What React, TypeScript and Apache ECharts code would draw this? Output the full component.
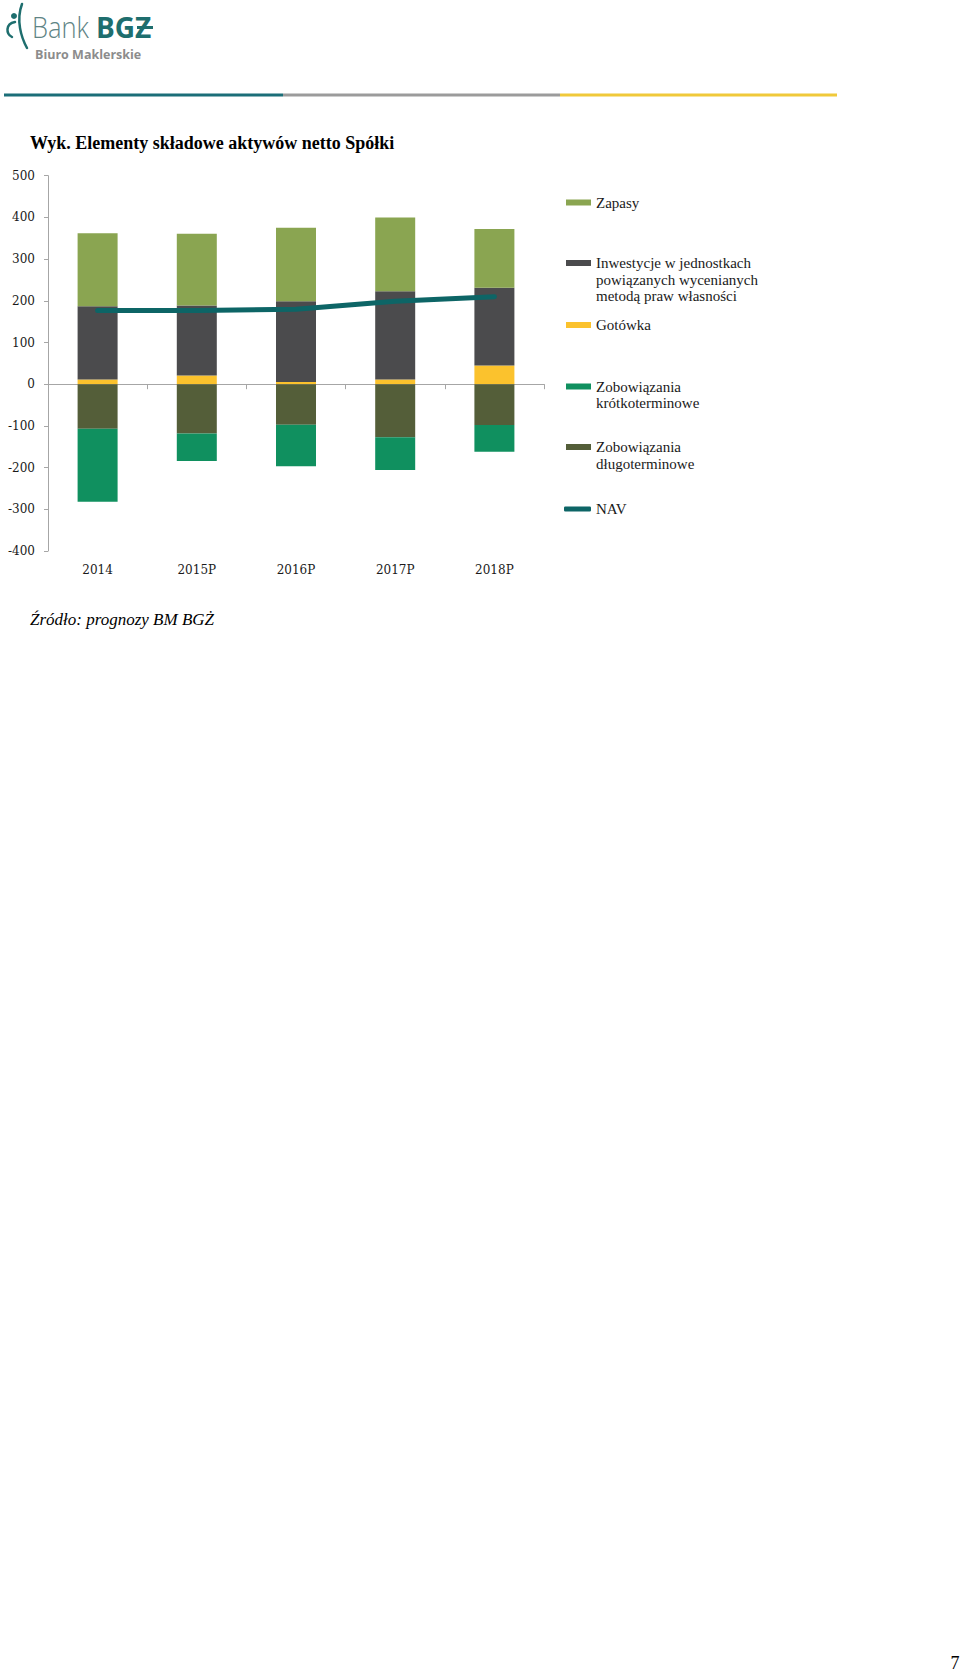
import React, { useEffect, useRef } from 'react';
import * as echarts from 'echarts';

const categories = ['2014', '2015P', '2016P', '2017P', '2018P'];
const zapasy = [175, 172, 176, 177, 141];
const inwestycje = [176, 168, 194, 212, 186];
const gotowka = [11, 21, 5, 11, 45];
const zobDlugo = [-107, -118, -97, -127, -98];
const zobKrotko = [-175, -66, -100, -79, -64];
const nav = [177, 177, 180, 199, 210];

const yMin = -400;
const yMax = 500;
const yStep = 100;

const N_ZAP = 'Zapasy';
const N_INW = 'Inwestycje w jednostkach powiązanych wycenianych metodą praw własności';
const N_GOT = 'Gotówka';
const N_KR = 'Zobowiązania krótkoterminowe';
const N_DL = 'Zobowiązania długoterminowe';
const N_NAV = 'NAV';

const legendLines: Record<string, string[]> = {
  [N_ZAP]: ['Zapasy'],
  [N_INW]: ['Inwestycje w jednostkach', 'powiązanych wycenianych', 'metodą praw własności'],
  [N_GOT]: ['Gotówka'],
  [N_KR]: ['Zobowiązania', 'krótkoterminowe'],
  [N_DL]: ['Zobowiązania', 'długoterminowe'],
  [N_NAV]: ['NAV'],
};

const C_ZAP = '#8aa551';
const C_INW = '#4b4b4d';
const C_GOT = '#fbc22d';
const C_KR = '#10905f';
const C_DL = '#545e39';
const C_NAV = '#0d6566';
const AXIS = '#a6a6a6';

const LH = 16.7;
const legendPos = [
  { name: N_ZAP, cy: 202.5, icon: 'rect' },
  { name: N_INW, cy: 263, icon: 'rect' },
  { name: N_GOT, cy: 325, icon: 'rect' },
  { name: N_KR, cy: 386.5, icon: 'rect' },
  { name: N_DL, cy: 447, icon: 'rect' },
  { name: N_NAV, cy: 509, icon: 'roundRect' },
];

export default function App() {
  const ref = useRef<HTMLDivElement>(null);
  useEffect(() => {
    if (!ref.current) return;
    const chart = echarts.init(ref.current, null, { renderer: 'svg' });

    const legends = legendPos.map((d) => {
      const lines = legendLines[d.name];
      const L = 2 * lines.length - 1;
      const isNav = d.name === N_NAV;
      return {
        data: [{ name: d.name, icon: d.icon }],
        orient: 'vertical',
        left: isNav ? 564 : 566,
        top: d.cy - (L * LH) / 2,
        padding: 0,
        itemWidth: isNav ? 27 : 25,
        itemHeight: isNav ? 5 : 6,
        selectedMode: false,
        textStyle: {
          fontFamily: '"Liberation Serif", serif',
          fontSize: 15,
          color: '#1a1a1a',
          lineHeight: LH,
        },
        formatter: () => '\n'.repeat(lines.length - 1) + lines.join('\n'),
      };
    });

    const barCommon = {
      type: 'bar',
      stack: 'total',
      barWidth: 40,
      xAxisIndex: 0,
      yAxisIndex: 0,
    };

    chart.setOption({
      animation: false,
      backgroundColor: '#ffffff',
      grid: { left: 48, top: 175.7, width: 496, height: 375.3, containLabel: false },
      legend: legends,
      xAxis: [
        {
          type: 'category',
          data: categories,
          position: 'bottom',
          axisLine: { show: true, onZero: true, lineStyle: { color: AXIS, width: 1 } },
          axisTick: { show: true, length: 5, lineStyle: { color: AXIS } },
          axisLabel: { show: false },
          splitLine: { show: false },
        },
        {
          type: 'category',
          data: categories,
          position: 'bottom',
          axisLine: { show: false, onZero: false },
          axisTick: { show: false },
          axisLabel: {
            show: true,
            margin: 13,
            fontFamily: '"DejaVu Serif", serif',
            fontSize: 12,
            color: '#1a1a1a',
          },
          splitLine: { show: false },
        },
      ],
      yAxis: {
        type: 'value',
        min: yMin,
        max: yMax,
        interval: yStep,
        axisLine: { show: true, lineStyle: { color: AXIS, width: 1 } },
        axisTick: { show: true, length: 4, lineStyle: { color: AXIS } },
        axisLabel: {
          margin: 13,
          fontFamily: '"DejaVu Serif", serif',
          fontSize: 12,
          color: '#1a1a1a',
        },
        splitLine: { show: false },
      },
      series: [
        { ...barCommon, name: N_GOT, data: gotowka, itemStyle: { color: C_GOT } },
        { ...barCommon, name: N_INW, data: inwestycje, itemStyle: { color: C_INW } },
        { ...barCommon, name: N_ZAP, data: zapasy, itemStyle: { color: C_ZAP } },
        { ...barCommon, name: N_DL, data: zobDlugo, itemStyle: { color: C_DL } },
        { ...barCommon, name: N_KR, data: zobKrotko, itemStyle: { color: C_KR } },
        {
          type: 'line',
          name: N_NAV,
          data: nav,
          symbol: 'none',
          xAxisIndex: 0,
          yAxisIndex: 0,
          z: 5,
          itemStyle: { color: C_NAV },
          lineStyle: { color: C_NAV, width: 5, cap: 'round', join: 'round' },
        },
      ],
      graphic: [
        // header rule
        { type: 'line', shape: { x1: 4, y1: 95, x2: 283, y2: 95 }, style: { stroke: '#1b6e78', lineWidth: 3 } },
        { type: 'line', shape: { x1: 283, y1: 95, x2: 560, y2: 95 }, style: { stroke: '#9b9b9b', lineWidth: 3 } },
        { type: 'line', shape: { x1: 560, y1: 95, x2: 837, y2: 95 }, style: { stroke: '#f0c93a', lineWidth: 3 } },
        // logo figure
        { type: 'circle', shape: { cx: 14, cy: 16, r: 3 }, style: { fill: '#1e6e6e' } },
        {
          type: 'bezierCurve',
          shape: { x1: 15, y1: 22, cpx1: 5, cpy1: 24, cpx2: 6, cpy2: 34, x2: 12, y2: 37 },
          style: { stroke: '#1e6e6e', lineWidth: 2.5, fill: 'none', lineCap: 'round' },
        },
        {
          type: 'bezierCurve',
          shape: { x1: 22, y1: 4, cpx1: 16, cpy1: 20, cpx2: 21, cpy2: 37, x2: 27, y2: 48 },
          style: { stroke: '#1e6e6e', lineWidth: 2.5, fill: 'none', lineCap: 'round' },
        },
        {
          type: 'text',
          x: 32,
          y: 27,
          scaleX: 0.88,
          style: {
            text: 'Bank',
            font: '300 29px "Open Sans", sans-serif',
            fill: '#5f8485',
            verticalAlign: 'middle',
            align: 'left',
          },
        },
        {
          type: 'text',
          x: 96,
          y: 27,
          style: {
            text: 'BGZ',
            font: 'bold 28px "Open Sans", sans-serif',
            fill: '#1e6e6e',
            verticalAlign: 'middle',
            align: 'left',
          },
        },
        { type: 'rect', shape: { x: 137, y: 26, width: 16, height: 3 }, style: { fill: '#1e6e6e' } },
        {
          type: 'text',
          x: 35,
          y: 54.5,
          style: {
            text: 'Biuro Maklerskie',
            font: 'bold 12.5px "Open Sans", sans-serif',
            fill: '#8c8c8c',
            verticalAlign: 'middle',
            align: 'left',
          },
        },
        // title
        {
          type: 'text',
          x: 30,
          y: 142.5,
          style: {
            text: 'Wyk. Elementy składowe aktywów netto Spółki',
            font: 'bold 18px "Liberation Serif", serif',
            fill: '#000000',
            verticalAlign: 'middle',
            align: 'left',
          },
        },
        // source
        {
          type: 'text',
          x: 30,
          y: 619.5,
          style: {
            text: 'Źródło: prognozy BM BGŻ',
            font: 'italic 17px "Liberation Serif", serif',
            fill: '#000000',
            verticalAlign: 'middle',
            align: 'left',
          },
        },
        // page number
        {
          type: 'text',
          x: 955,
          y: 1663,
          style: {
            text: '7',
            font: '18px "Liberation Serif", serif',
            fill: '#000000',
            verticalAlign: 'middle',
            align: 'center',
          },
        },
      ],
    });
    return () => chart.dispose();
  }, []);
  return (
    <div
      ref={ref}
      style={{ position: 'absolute', left: 0, top: 0, width: 960, height: 1672, background: '#fff' }}
    />
  );
}
